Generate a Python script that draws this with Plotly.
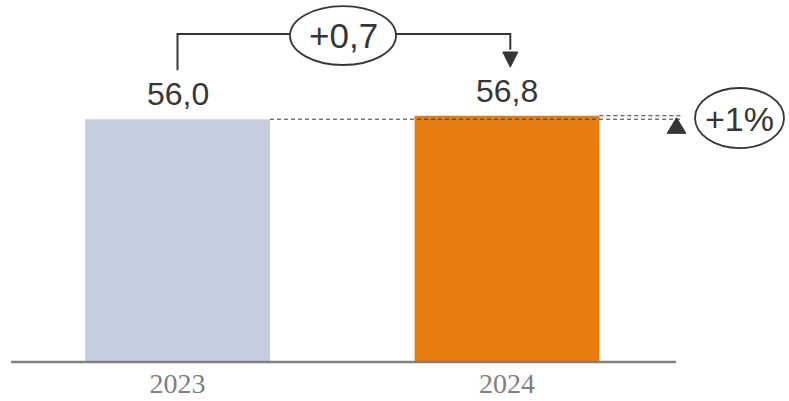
import plotly.graph_objects as go

categories = ["2023", "2024"]
values = [56.0, 56.8]
value_labels = ["56,0", "56,8"]
bar_colors = ["#C5CFE0", "#E87D0F"]
delta_label = "+0,7"
pct_label = "+1%"

TXT = "#363636"
FONT = "Arial, Liberation Sans"
xpos = list(range(len(categories)))

fig = go.Figure()
fig.add_trace(go.Bar(x=xpos, y=values, width=0.561, marker=dict(color=bar_colors, line=dict(width=0)),
                     hoverinfo="skip"))

shapes = []
ann = []
# axis baseline
shapes.append(dict(type="line", xref="x", yref="y", x0=-0.505, x1=1.513, y0=0, y1=0,
                   line=dict(color="#808080", width=2.5), layer="above"))
# value labels
for x, v, t in zip(xpos, values, value_labels):
    ann.append(dict(x=x, y=v, xref="x", yref="y", text=t, showarrow=False, yanchor="bottom",
                    yshift=5, font=dict(family=FONT, size=32, color=TXT)))

# bracket
yb = 75.65
shapes.append(dict(type="path", xref="x", yref="y",
                   path=f"M 0,{values[0]+11.3} L 0,{yb} L 0.3414,{yb}",
                   line=dict(color=TXT, width=2)))
shapes.append(dict(type="path", xref="x", yref="y",
                   path=f"M 0.6631,{yb} L 1.01,{yb} L 1.01,{values[1]+15.2}",
                   line=dict(color=TXT, width=2)))
# arrowhead
shapes.append(dict(type="path", xref="x", yref="y",
                   path=f"M 0.987,{values[1]+14.7} L 1.033,{values[1]+14.7} L 1.01,{values[1]+11.2} Z",
                   fillcolor=TXT, line=dict(color=TXT, width=1)))
# ellipse +0,7
shapes.append(dict(type="circle", xref="x", yref="y", x0=0.3414, x1=0.6631, y0=68.5, y1=82.1,
                   line=dict(color=TXT, width=1.8), fillcolor="white"))
ann.append(dict(x=0.5023, y=75.4, xref="x", yref="y", text=delta_label, showarrow=False,
                font=dict(family=FONT, size=35, color=TXT)))

# dashed reference lines
shapes.append(dict(type="line", xref="x", yref="y", x0=0.2807, x1=1.534, y0=values[0], y1=values[0],
                   line=dict(color=TXT, width=1, dash="4px,3px"), layer="above"))
shapes.append(dict(type="line", xref="x", yref="y", x0=1.2805, x1=1.534, y0=values[1], y1=values[1],
                   line=dict(color=TXT, width=1, dash="4px,3px"), layer="above"))
# triangle
shapes.append(dict(type="path", xref="x", yref="y",
                   path="M 1.486,52.74 L 1.543,52.74 L 1.5145,56.34 Z",
                   fillcolor=TXT, line=dict(color=TXT, width=1)))
# ellipse +1%
shapes.append(dict(type="circle", xref="x", yref="y", x0=1.5706, x1=1.8407, y0=49.35, y1=63.19,
                   line=dict(color=TXT, width=1.8), fillcolor="white"))
ann.append(dict(x=1.7056, y=56.1, xref="x", yref="y", text=pct_label, showarrow=False,
                font=dict(family=FONT, size=34, color=TXT)))

fig.update_layout(
    width=789, height=401,
    margin=dict(l=0, r=0, t=0, b=37),
    paper_bgcolor="white", plot_bgcolor="white",
    showlegend=False,
    shapes=shapes, annotations=ann,
    xaxis=dict(range=[-0.5387, 1.8558], tickvals=xpos, ticktext=categories, showgrid=False,
               zeroline=False, showline=False, ticks="",
               tickfont=dict(family="Liberation Serif, Times New Roman", size=28, color="#808080")),
    yaxis=dict(range=[-0.461, 83.49], visible=False, showgrid=False, zeroline=False),
)
fig.write_html("out.html", config={"displayModeBar": False},
               post_script="document.body.style.margin='0';document.body.style.overflow='hidden';")
